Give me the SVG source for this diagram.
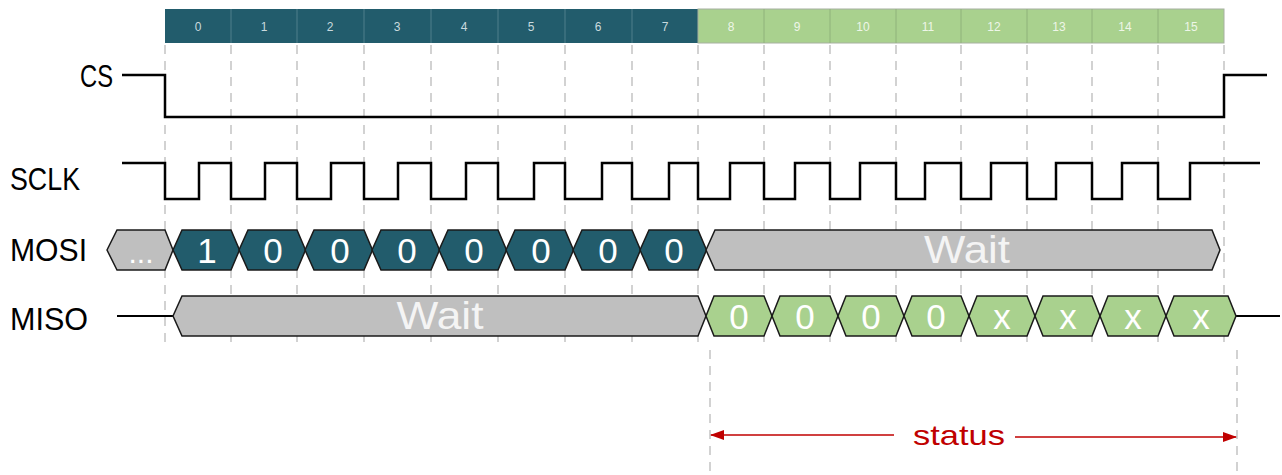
<svg xmlns="http://www.w3.org/2000/svg" width="1282" height="475" viewBox="0 0 1282 475">
<defs>
<style>
.lbl{font-family:"Liberation Sans",Arial,sans-serif;font-size:32px;fill:#000}
.num{font-family:"Liberation Sans",Arial,sans-serif;font-size:12px;text-anchor:middle}
.nt{fill:#c9dade}
.ng{fill:#eef6e8}
.big{font-family:"Liberation Sans",Arial,sans-serif;font-size:35px;text-anchor:middle;fill:#ffffff}
.wait{font-family:"Liberation Sans",Arial,sans-serif;font-size:38px;text-anchor:middle;fill:#f4f4f4}
.dash{stroke:#c4c4c4;stroke-width:1.5;stroke-dasharray:9,7;fill:none}
.sig{stroke:#000;stroke-width:2.5;fill:none}
.hexT{fill:#225c6c;stroke:#1a1a1a;stroke-width:1.5}
.hexG{fill:#a9d18e;stroke:#1a1a1a;stroke-width:1.5}
.hexW{fill:#bfbfbf;stroke:#1a1a1a;stroke-width:1.5}
.red{stroke:#c00000;stroke-width:1.6;fill:none}
</style>
<marker id="ah" viewBox="0 0 14 10" refX="13" refY="5" markerWidth="14" markerHeight="10" markerUnits="userSpaceOnUse" orient="auto-start-reverse">
<path d="M0,0 L14,5 L0,10 Z" fill="#c00000"/>
</marker>
</defs>

<g id="grid">
<path class="dash" d="M165,45V346 M231,45V346 M297,45V346 M364,45V346 M431,45V346 M498,45V346 M565,45V346 M632,45V346 M698,45V346 M764,45V346 M830,45V346 M896,45V346 M961,45V346 M1027,45V346 M1092,45V346 M1158,45V346 M1224,45V346"/>
<path class="dash" d="M710,350V475 M1237,350V475"/>
</g>

<g id="header">
<rect x="165" y="9" width="533" height="34" fill="#225c6c"/>
<rect x="698" y="9" width="526" height="34" fill="#a9d18e" stroke="#a6b0a0" stroke-width="1"/>
<path d="M231,9V43 M297,9V43 M364,9V43 M431,9V43 M498,9V43 M565,9V43 M632,9V43" stroke="#4f7f8b" stroke-width="1"/>
<path d="M764,9V43 M830,9V43 M896,9V43 M961,9V43 M1027,9V43 M1092,9V43 M1158,9V43" stroke="#8fb27a" stroke-width="1"/>
<text class="num nt" x="198" y="31">0</text>
<text class="num nt" x="264" y="31">1</text>
<text class="num nt" x="330" y="31">2</text>
<text class="num nt" x="397" y="31">3</text>
<text class="num nt" x="464" y="31">4</text>
<text class="num nt" x="531" y="31">5</text>
<text class="num nt" x="598" y="31">6</text>
<text class="num nt" x="665" y="31">7</text>
<text class="num ng" x="731" y="31">8</text>
<text class="num ng" x="797" y="31">9</text>
<text class="num ng" x="863" y="31">10</text>
<text class="num ng" x="928" y="31">11</text>
<text class="num ng" x="994" y="31">12</text>
<text class="num ng" x="1059" y="31">13</text>
<text class="num ng" x="1125" y="31">14</text>
<text class="num ng" x="1191" y="31">15</text>
</g>

<g id="cs">
<text class="lbl" x="80" y="87" textLength="33" lengthAdjust="spacingAndGlyphs">CS</text>
<path class="sig" d="M122,75H165V117H1224V75H1267"/>
</g>

<g id="sclk">
<text class="lbl" x="10" y="190" textLength="70" lengthAdjust="spacingAndGlyphs">SCLK</text>
<path class="sig" d="M122,163H165V199H199V163H231V199H265V163H297V199H331V163H364V199H398V163H431V199H466V163H498V199H534V163H565V199H602V163H632V199H669V163H698V199H730V163H764V199H795V163H830V199H860V163H896V199H925V163H961V199H991V163H1027V199H1056V163H1092V199H1122V163H1158V199H1190V163H1260"/>
</g>

<g id="mosi">
<text class="lbl" x="10" y="261" textLength="77" lengthAdjust="spacingAndGlyphs">MOSI</text>
<polygon class="hexW" points="107,250 117,230 165,230 173,250 165,270 117,270"/>
<text class="big" x="141" y="263" style="font-size:30px">...</text>
<polygon class="hexT" points="173,250 182,230 231,230 239.5,250 231,270 182,270"/>
<polygon class="hexT" points="239,250 248,230 297,230 305.5,250 297,270 248,270"/>
<polygon class="hexT" points="305,250 314,230 364,230 372.5,250 364,270 314,270"/>
<polygon class="hexT" points="372,250 381,230 431,230 439.5,250 431,270 381,270"/>
<polygon class="hexT" points="439,250 448,230 498,230 506.5,250 498,270 448,270"/>
<polygon class="hexT" points="506,250 515,230 565,230 573.5,250 565,270 515,270"/>
<polygon class="hexT" points="573,250 582,230 632,230 640.5,250 632,270 582,270"/>
<polygon class="hexT" points="640,250 649,230 698,230 706.5,250 698,270 649,270"/>
<text class="big" x="207" y="263">1</text>
<text class="big" x="273" y="263">0</text>
<text class="big" x="340" y="263">0</text>
<text class="big" x="407" y="263">0</text>
<text class="big" x="474" y="263">0</text>
<text class="big" x="541" y="263">0</text>
<text class="big" x="608" y="263">0</text>
<text class="big" x="674" y="263">0</text>
<polygon class="hexW" points="706,250 715,230 1212,230 1220,250 1212,270 715,270"/>
<text class="wait" x="967" y="263" textLength="86" lengthAdjust="spacingAndGlyphs">Wait</text>
</g>

<g id="miso">
<text class="lbl" x="10" y="330" textLength="78" lengthAdjust="spacingAndGlyphs">MISO</text>
<path stroke="#000" stroke-width="2" d="M117,316H173 M1236,316H1280"/>
<polygon class="hexW" points="173,316 182,296 698,296 706,316 698,336 182,336"/>
<text class="wait" x="440" y="329" textLength="87" lengthAdjust="spacingAndGlyphs">Wait</text>
<polygon class="hexG" points="706,316 714,296 764,296 772,316 764,336 714,336"/>
<polygon class="hexG" points="772,316 780,296 830,296 838,316 830,336 780,336"/>
<polygon class="hexG" points="838,316 846,296 896,296 904,316 896,336 846,336"/>
<polygon class="hexG" points="904,316 912,296 961,296 969,316 961,336 912,336"/>
<polygon class="hexG" points="969,316 977,296 1027,296 1035,316 1027,336 977,336"/>
<polygon class="hexG" points="1035,316 1043,296 1092,296 1100,316 1092,336 1043,336"/>
<polygon class="hexG" points="1100,316 1108,296 1158,296 1166,316 1158,336 1108,336"/>
<polygon class="hexG" points="1166,316 1174,296 1228,296 1236,316 1228,336 1174,336"/>
<text class="big" x="739" y="329">0</text>
<text class="big" x="805" y="329">0</text>
<text class="big" x="871" y="329">0</text>
<text class="big" x="936" y="329">0</text>
<text class="big" x="1002" y="329">x</text>
<text class="big" x="1068" y="329">x</text>
<text class="big" x="1133" y="329">x</text>
<text class="big" x="1201" y="329">x</text>
</g>

<g id="status">
<path class="red" d="M894,435H711" marker-end="url(#ah)"/>
<path class="red" d="M1015,437H1236" marker-end="url(#ah)"/>
<text x="959" y="445" style="font-family:'Liberation Sans',Arial,sans-serif;font-size:28px;fill:#c00000;text-anchor:middle" textLength="92" lengthAdjust="spacingAndGlyphs">status</text>
</g>
</svg>
